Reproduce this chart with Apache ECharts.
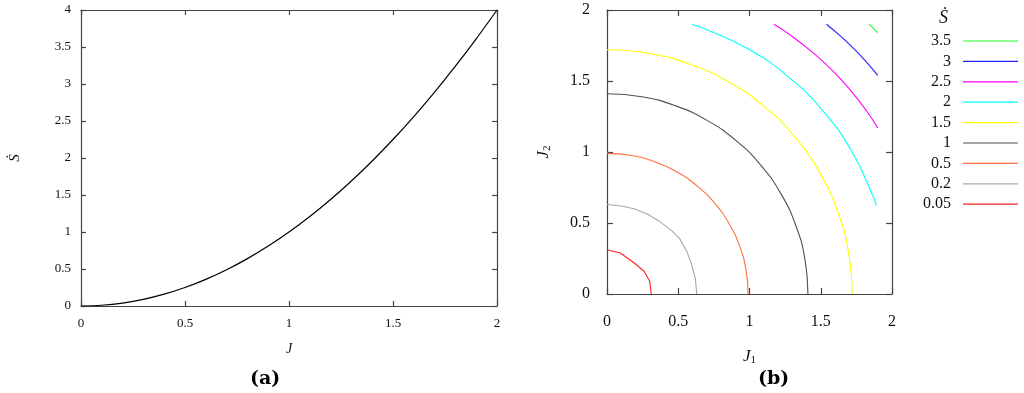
<!DOCTYPE html>
<html>
<head>
<meta charset="utf-8">
<script src="https://cdn.jsdelivr.net/npm/echarts@6/dist/echarts.min.js"></script>
<style>
  html, body { margin: 0; padding: 0; background: #fff; }
  #chart { width: 1024px; height: 393px; }
</style>
</head>
<body>
<div id="chart"></div>
<script>
// panel (a): S-dot against J
const curveJ = [0, 0.1, 0.2, 0.3, 0.4, 0.5, 0.6, 0.7, 0.8, 0.9, 1, 1.1, 1.2, 1.3, 1.4, 1.5, 1.6, 1.7, 1.8, 1.9, 2];
const curveS = [0, 0.01, 0.04, 0.09, 0.16, 0.25, 0.36, 0.49, 0.64, 0.81, 1, 1.21, 1.44, 1.69, 1.96, 2.25, 2.56, 2.89, 3.24, 3.61, 4];

// panel (b): contour lines of S-dot over (J1, J2)
const levels = ['0.05', '0.2', '0.5', '1', '1.5', '2', '2.5', '3', '3.5'];
const c005 = [[0, 0.31], [0.09, 0.29], [0.19, 0.22], [0.26, 0.16], [0.30, 0.09], [0.31, 0]];
const c02 = [[0, 0.63], [0.1, 0.62], [0.19, 0.6], [0.29, 0.56], [0.37, 0.51], [0.45, 0.45], [0.51, 0.39], [0.56, 0.3], [0.59, 0.22], [0.62, 0.11], [0.63, 0]];
const c05 = [[0, 0.99], [0.172, 0.975], [0.339, 0.93], [0.495, 0.857], [0.636, 0.758], [0.758, 0.636], [0.857, 0.495], [0.93, 0.339], [0.975, 0.172], [0.99, 0]];
const c1 = [[0, 1.41], [0.245, 1.389], [0.482, 1.325], [0.705, 1.221], [0.906, 1.08], [1.08, 0.906], [1.221, 0.705], [1.325, 0.482], [1.389, 0.245], [1.41, 0]];
const c15 = [[0, 1.72], [0.299, 1.694], [0.588, 1.616], [0.86, 1.49], [1.106, 1.318], [1.318, 1.106], [1.49, 0.86], [1.616, 0.588], [1.694, 0.299], [1.72, 0]];
const c2 = [[0.598, 1.898], [0.681, 1.87], [0.995, 1.723], [1.279, 1.524], [1.524, 1.279], [1.723, 0.995], [1.87, 0.681], [1.89, 0.622]];
const c25 = [[1.17, 1.9], [1.28, 1.828], [1.434, 1.709], [1.578, 1.578], [1.709, 1.434], [1.828, 1.28], [1.9, 1.17]];
const c3 = [[1.54, 1.9], [1.637, 1.818], [1.73, 1.73], [1.818, 1.637], [1.9, 1.54]];
const c35 = [[1.84, 1.9], [1.9, 1.84]];
const contours = [c005, c02, c05, c1, c15, c2, c25, c3, c35];

const tickStep = 0.5;

const levelColors = ['#ff2020', '#a8a8a8', '#ff7040', '#505050', '#ffff00', '#00ffff', '#ff00ff', '#2020ff', '#20ff20'];

const serif = '"Liberation Serif", "DejaVu Serif", serif';
const borderColor = '#444';

const chart = echarts.init(document.getElementById('chart'));

function boxAxis(gridIndex, pos, opts) {
  return Object.assign({
    type: 'value',
    gridIndex: gridIndex,
    position: pos,
    min: 0,
    interval: tickStep,
    axisLine: { show: true, onZero: false, lineStyle: { color: borderColor, width: 1.2 } },
    axisTick: { show: true, inside: true, length: 5, lineStyle: { color: borderColor, width: 1.2 } },
    splitLine: { show: false },
    axisLabel: { show: false }
  }, opts);
}

const labelSmall = { show: true, fontFamily: serif, fontSize: 13, color: '#111' };
const labelBig = { show: true, fontFamily: serif, fontSize: 16, color: '#111' };
const bigTick = { show: true, inside: true, length: 6, lineStyle: { color: borderColor, width: 1.2 } };
const subName = {
  rich: {
    i: { fontFamily: serif, fontStyle: 'italic', fontSize: 17, color: '#111' },
    s: { fontFamily: serif, fontSize: 11, color: '#111', verticalAlign: 'bottom', padding: [8, 0, 0, 0] }
  }
};

const contourSeries = contours.map((pts, i) => ({
  name: levels[i],
  type: 'line',
  xAxisIndex: 2,
  yAxisIndex: 2,
  data: pts,
  smooth: i < 2 ? false : 0.5,
  showSymbol: false,
  symbol: 'none',
  lineStyle: { color: levelColors[i], width: 1.1 },
  itemStyle: { color: levelColors[i] },
  silent: true
}));

const option = {
  animation: false,
  backgroundColor: '#fff',
  grid: [
    { left: 81, top: 10, width: 416, height: 296 },
    { left: 607, top: 10, width: 285, height: 284 }
  ],
  xAxis: [
    boxAxis(0, 'bottom', {
      max: 2,
      axisLabel: Object.assign({ margin: 11 }, labelSmall),
      name: 'J', nameLocation: 'middle', nameGap: 36,
      nameTextStyle: { fontFamily: serif, fontStyle: 'italic', fontSize: 14, color: '#111' }
    }),
    boxAxis(0, 'top', { max: 2 }),
    boxAxis(1, 'bottom', {
      max: 2,
      axisTick: bigTick,
      axisLabel: Object.assign({ margin: 20 }, labelBig),
      name: '{i|J}{s|1}', nameLocation: 'middle', nameGap: 53,
      nameTextStyle: subName
    }),
    boxAxis(1, 'top', { max: 2, axisTick: bigTick })
  ],
  yAxis: [
    boxAxis(0, 'left', {
      max: 4,
      axisLabel: Object.assign({ margin: 10 }, labelSmall),
      name: 'Ṡ', nameLocation: 'middle', nameGap: 58, nameRotate: 90,
      nameTextStyle: { fontFamily: serif, fontStyle: 'italic', fontSize: 15, color: '#111' }
    }),
    boxAxis(0, 'right', { max: 4 }),
    boxAxis(1, 'left', {
      max: 2,
      axisTick: bigTick,
      axisLabel: Object.assign({ margin: 17 }, labelBig),
      name: '{i|J}{s|2}', nameLocation: 'middle', nameGap: 54, nameRotate: 90,
      nameTextStyle: subName
    }),
    boxAxis(1, 'right', { max: 2, axisTick: bigTick })
  ],
  legend: {
    data: levels.slice().reverse(),
    orient: 'vertical',
    right: 1,
    top: 26,
    align: 'right',
    icon: 'rect',
    itemWidth: 55,
    itemHeight: 1.2,
    itemGap: 0.4,
    selectedMode: false,
    textStyle: {
      fontFamily: serif, fontSize: 16, color: '#111',
      width: 40, align: 'right', lineHeight: 20, padding: [0, 7, 0, 0]
    }
  },
  graphic: [
    { type: 'text', left: 939, top: 9, style: { text: 'Ṡ', font: 'italic 18px ' + serif, fill: '#111' } },
    { type: 'text', left: 250, top: 370, style: { text: '(a)', font: 'bold 19px "DejaVu Serif", serif', fill: '#000' } },
    { type: 'text', left: 758, top: 370, style: { text: '(b)', font: 'bold 19px "DejaVu Serif", serif', fill: '#000' } }
  ],
  series: [
    {
      name: 'S',
      type: 'line',
      xAxisIndex: 0,
      yAxisIndex: 0,
      data: curveJ.map((j, i) => [j, curveS[i]]),
      smooth: 0.3,
      showSymbol: false,
      symbol: 'none',
      lineStyle: { color: '#000', width: 1.2 },
      silent: true
    }
  ].concat(contourSeries)
};

chart.setOption(option);
window.addEventListener('resize', () => chart.resize());
</script>
</body>
</html>
